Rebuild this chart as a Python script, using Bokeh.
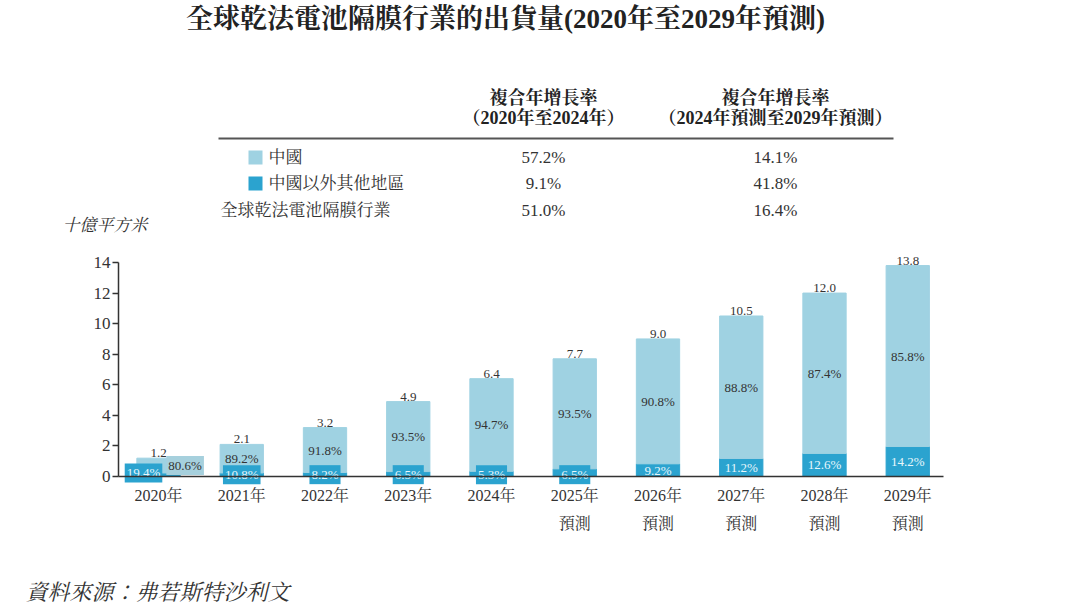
from bokeh.plotting import figure
from bokeh.models import Range1d, FixedTicker
from bokeh.core.properties import value
from bokeh.embed import file_html
from bokeh.resources import INLINE

# ---------------- data ----------------
years = ["2020年", "2021年", "2022年", "2023年", "2024年",
         "2025年", "2026年", "2027年", "2028年", "2029年"]
forecast = [False, False, False, False, False, True, True, True, True, True]
totals = [1.2, 2.1, 3.2, 4.9, 6.4, 7.7, 9.0, 10.5, 12.0, 13.8]
china_vals = [0.97, 1.87, 2.94, 4.58, 6.06, 7.20, 8.17, 9.32, 10.49, 11.84]
other_vals = [0.23, 0.23, 0.26, 0.32, 0.34, 0.50, 0.83, 1.18, 1.51, 1.96]
china_share = ["80.6%", "89.2%", "91.8%", "93.5%", "94.7%",
               "93.5%", "90.8%", "88.8%", "87.4%", "85.8%"]
other_share = ["19.4%", "10.8%", "8.2%", "6.5%", "5.3%",
               "6.5%", "9.2%", "11.2%", "12.6%", "14.2%"]
total_labels = ["1.2", "2.1", "3.2", "4.9", "6.4", "7.7", "9.0", "10.5", "12.0", "13.8"]

table_rows = ["中國", "中國以外其他地區", "全球乾法電池隔膜行業"]
cagr_2020_2024 = ["57.2%", "9.1%", "51.0%"]
cagr_2024_2029 = ["14.1%", "41.8%", "16.4%"]
col_header_1 = ["複合年增長率", "（2020年至2024年）"]
col_header_2 = ["複合年增長率", "（2024年預測至2029年預測）"]
title_text = "全球乾法電池隔膜行業的出貨量(2020年至2029年預測)"
unit_text = "十億平方米"
source_text = "資料來源：弗若斯特沙利文"

LIGHT = "#9fd2e2"
DARK = "#2ba3cf"
TXT = "#333333"
FONT = "Liberation Serif, Noto Serif CJK TC, Noto Sans CJK TC"

W, H = 1072, 605
# chart placement on the page (pixels)
X0_PX, XSTEP_PX = 158, 83.25      # centre of first category, category spacing
Y0_PX, YUNIT_PX = 476, 15.286     # baseline, pixels per unit
AX_LEFT_PX, AX_RIGHT_PX = 118, 943

p = figure(width=W, height=H,
           x_range=Range1d(-X0_PX / XSTEP_PX, (W - X0_PX) / XSTEP_PX),
           y_range=Range1d((Y0_PX - H) / YUNIT_PX, Y0_PX / YUNIT_PX),
           toolbar_location=None, output_backend="svg", min_border=0)
p.outline_line_color = None
p.grid.visible = False
p.extra_x_ranges = {"px": Range1d(0, W)}
p.extra_y_ranges = {"py": Range1d(H, 0)}
PX = dict(x_range_name="px", y_range_name="py")

# ---------------- header (title + CAGR table) ----------------
p.text(x=[505], y=[18], text=[title_text], text_font=value(FONT), text_font_size="27px",
       text_font_style="bold", text_align="center", text_baseline="middle",
       text_color="#222222", **PX)
p.text(x=[543, 543], y=[97, 117], text=col_header_1, text_font=value(FONT), text_font_size="18px",
       text_font_style="bold", text_align="center", text_baseline="middle",
       text_color="#222222", **PX)
p.text(x=[775, 775], y=[97, 117], text=col_header_2, text_font=value(FONT), text_font_size="18px",
       text_font_style="bold", text_align="center", text_baseline="middle",
       text_color="#222222", **PX)
p.segment(x0=[218], y0=[138], x1=[893], y1=[138], line_color="#555555", line_width=2, **PX)

row_y = [157, 183, 210]
row_x = [268, 268, 220]
p.rect(x=[255, 255], y=row_y[:2], width=14, height=14,
       fill_color=[LIGHT, DARK], line_color=None, **PX)
p.text(x=row_x, y=row_y, text=table_rows, text_font=value(FONT), text_font_size="17px",
       text_align="left", text_baseline="middle", text_color=TXT, **PX)
p.text(x=[543] * 3, y=row_y, text=cagr_2020_2024, text_font=value(FONT), text_font_size="17px",
       text_align="center", text_baseline="middle", text_color=TXT, **PX)
p.text(x=[775] * 3, y=row_y, text=cagr_2024_2029, text_font=value(FONT), text_font_size="17px",
       text_align="center", text_baseline="middle", text_color=TXT, **PX)
p.text(x=[62], y=[225], text=[unit_text], text_font=value(FONT), text_font_size="17px",
       text_font_style="italic", text_align="left", text_baseline="middle",
       text_color=TXT, **PX)
p.text(x=[25], y=[592], text=[source_text], text_font=value(FONT), text_font_size="22px",
       text_font_style="italic", text_align="left", text_baseline="middle",
       text_color=TXT, **PX)

# ---------------- chart ----------------
xs = list(range(len(years)))
src = dict(x=xs, china=china_vals, other=other_vals)
p.vbar_stack(["other", "china"], x="x", width=0.52, color=[DARK, LIGHT], source=src)

# totals on top
p.text(x=xs, y=totals, text=total_labels, text_font=value(FONT), text_font_size="13px",
       text_align="center", text_baseline="bottom", y_offset=-1, text_color=TXT)

# China share labels
cx = [x + (0.32 if i == 0 else 0) for i, x in enumerate(xs)]
cy = [0.72 if i == 0 else o + c / 2 for i, (o, c) in enumerate(zip(other_vals, china_vals))]
p.text(x=cx[:1], y=cy[:1], text=china_share[:1], text_font=value(FONT), text_font_size="13px",
       text_align="center", text_baseline="middle", text_color=TXT,
       background_fill_color="#a6d0dd", padding=2)
p.text(x=cx[1:], y=cy[1:], text=china_share[1:], text_font=value(FONT), text_font_size="13px",
       text_align="center", text_baseline="middle", text_color=TXT)

# other-region share labels
small = 6
ox = [x - (0.18 if i == 0 else 0) for i, x in enumerate(xs[:small])]
oy = [0.23 if i == 0 else 0.12 for i in range(small)]
p.text(x=ox, y=oy, text=other_share[:small], text_font=value(FONT), text_font_size="13px",
       text_align="center", text_baseline="middle", text_color="#e8f7fc",
       background_fill_color=DARK, padding=2)
p.text(x=xs[small:], y=[o / 2 for o in other_vals[small:]], text=other_share[small:],
       text_font=value(FONT), text_font_size="13px",
       text_align="center", text_baseline="middle", text_color="#e8f7fc")

# axes (drawn at fixed positions inside the full-page frame)
x_left = (AX_LEFT_PX - X0_PX) / XSTEP_PX
x_right = (AX_RIGHT_PX - X0_PX) / XSTEP_PX

p.yaxis.fixed_location = x_left
p.yaxis.ticker = FixedTicker(ticks=[0, 2, 4, 6, 8, 10, 12, 14])
p.yaxis.bounds = (0, 14)
p.yaxis.minor_tick_line_color = None
p.yaxis.major_tick_in = 0
p.yaxis.major_tick_out = 6
p.yaxis.axis_line_color = "#333333"
p.yaxis.axis_line_width = 1.5
p.yaxis.major_tick_line_color = "#333333"
p.yaxis.major_tick_line_width = 1.5
p.yaxis.major_label_text_font = FONT
p.yaxis.major_label_text_font_size = "17px"
p.yaxis.major_label_text_color = TXT
p.yaxis.major_label_standoff = 2

p.xaxis.fixed_location = 0
p.xaxis.bounds = (x_left, x_right)
p.xaxis.ticker = FixedTicker(ticks=xs)
p.xaxis.major_label_overrides = {i: (y + "\n預測" if f else y)
                                 for i, (y, f) in enumerate(zip(years, forecast))}
p.xaxis.axis_line_color = "#333333"
p.xaxis.axis_line_width = 1.5
p.xaxis.major_tick_line_color = None
p.xaxis.minor_tick_line_color = None
p.xaxis.major_label_text_font = FONT
p.xaxis.major_label_text_font_size = "16px"
p.xaxis.major_label_text_color = TXT
p.xaxis.major_label_text_line_height = 1.7
p.xaxis.major_label_standoff = 4

open("out.html", "w").write(file_html(p, INLINE))
